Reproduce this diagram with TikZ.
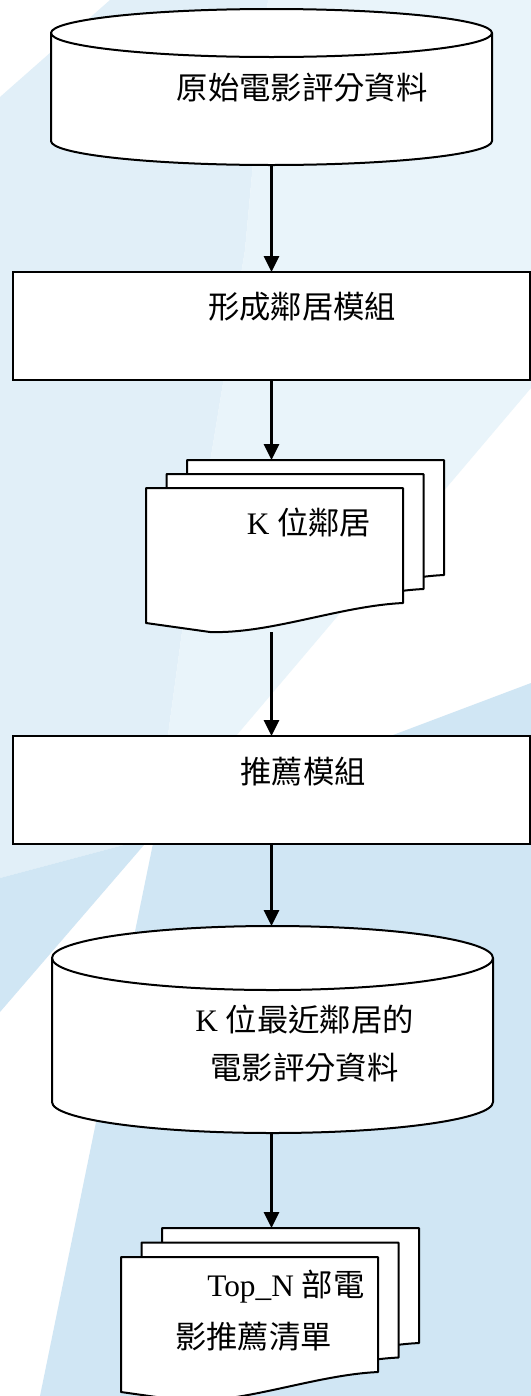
\documentclass[tikz,border=0pt]{standalone}
\usepackage{fontspec}
\setmainfont{Liberation Serif}
\newfontfamily\cjk{Noto Sans CJK TC}
\usetikzlibrary{arrows.meta}
\definecolor{bgA}{RGB}{225,239,248}
\definecolor{bgL}{RGB}{233,244,250}
\definecolor{bgB}{RGB}{208,230,244}
\tikzset{
  shp/.style={draw=black, line width=1.5pt, fill=white, line join=round},
  boxnode/.style={draw=black, line width=1.5pt, fill=white, inner sep=0pt, outer sep=0pt},
  anchorbox/.style={draw=none, inner sep=0pt, outer sep=0pt},
  arr/.style={line width=1.7pt, -{Triangle[length=12pt,width=11.5pt]}},
  txt/.style={font=\fontsize{23.5}{36}\selectfont, inner sep=0pt}
}
\newcommand\mydocpage[2]{%
  \begin{scope}[shift={(#1,-#2)}]
    \draw[shp] (0,0) -- (257,0) -- (257,-115)
      .. controls (194,-118) and (124,-146) .. (64,-144) -- (0,-135) -- cycle;
  \end{scope}}
\begin{document}
\begin{tikzpicture}[x=0.75pt,y=0.75pt]
\useasboundingbox (0,0) rectangle (531,-1396);
% background
\fill[white] (0,0) rectangle (531,-1396);
\fill[bgA] (110,0) -- (268,0) -- (245,-250) -- (182,-632) -- (168,-735) -- (160,-780) -- (150,-838) -- (0,-878) -- (0,-97) -- cycle;
\fill[bgL] (268,0) -- (531,0) -- (531,-388) -- (236,-736) -- (200,-780) -- (160,-780) -- (168,-735) -- (182,-632) -- (245,-250) -- cycle;
\fill[bgB] (531,-683) -- (157,-824) -- (40,-1396) -- (531,-1396) -- cycle;
\fill[bgB] (0,-878) -- (150,-838) -- (0,-1012) -- cycle;

% cylinder 1
\node[anchorbox, minimum width=330.75pt, minimum height=117pt] (c1) at (271.5,-87) {};
\draw[shp] (51,-33) -- (51,-141) arc[start angle=180,end angle=360,x radius=220.5,y radius=24]
  -- (492,-33) arc[start angle=0,end angle=180,x radius=220.5,y radius=24] -- cycle;
\draw[shp, fill=none] (51,-33) arc[start angle=180,end angle=360,x radius=220.5,y radius=24];
\node[txt] (t1) at (302,-88) {\cjk 原始電影評分資料};

% rectangle 1
\node[boxnode, minimum width=387.75pt, minimum height=81pt] (r1) at (271.5,-326) {};
\node[txt] (t2) at (302,-307) {\cjk 形成鄰居模組};

% multi-document 1
\node[anchorbox, minimum width=224.25pt, minimum height=129pt] (d1) at (295.5,-546) {};
\mydocpage{187}{460}
\mydocpage{166.5}{474}
\mydocpage{146}{488}
\node[txt] (t3) at (309,-522) {K {\cjk 位鄰居}};

% rectangle 2
\node[boxnode, minimum width=387.75pt, minimum height=81pt] (r2) at (271.5,-790) {};
\node[txt] (t4) at (303,-772) {\cjk 推薦模組};

% cylinder 2
\node[anchorbox, minimum width=330.75pt, minimum height=155.25pt] (c2) at (272.5,-1029.5) {};
\draw[shp] (52,-958) -- (52,-1102) arc[start angle=180,end angle=360,x radius=220.5,y radius=31]
  -- (493,-958) arc[start angle=0,end angle=180,x radius=220.5,y radius=32] -- cycle;
\draw[shp, fill=none] (52,-958) arc[start angle=180,end angle=360,x radius=220.5,y radius=32];
\node[txt, align=center] (t5) at (304.5,-1044) {K {\cjk 位最近鄰居的}\\{\cjk 電影評分資料}};

% multi-document 2
\node[anchorbox, minimum width=225pt, minimum height=129.75pt] (d2) at (271,-1314.5) {};
\mydocpage{162}{1228}
\mydocpage{141.5}{1242.5}
\mydocpage{121}{1257}
\node[txt, anchor=west] (t6) at (207,-1287) {Top\_N {\cjk 部電}};
\node[txt, anchor=west] (t7) at (175,-1337) {\cjk 影推薦清單};

% connectors
\draw[arr] (c1.south) -- (r1.north);
\draw[arr] (r1.south) -- (r1.south |- d1.north);
\draw[arr] (r2.north |- d1.south) -- (r2.north);
\draw[arr] (r2.south) -- (r2.south |- c2.north);
\draw[arr] (r2.south |- c2.south) -- (r2.south |- d2.north);
\end{tikzpicture}
\end{document}
